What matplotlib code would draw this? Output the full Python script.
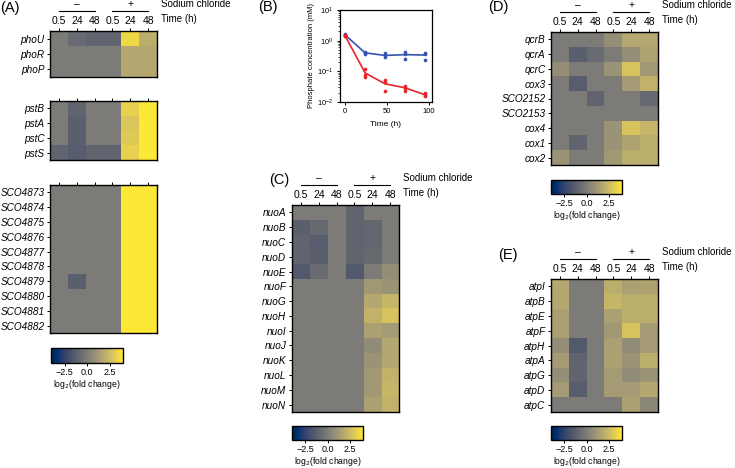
import numpy as np
import matplotlib
matplotlib.use('Agg')
import matplotlib.pyplot as plt
from matplotlib.lines import Line2D

plt.rcParams['font.family'] = ['Liberation Sans', 'DejaVu Sans']

W, H = 735, 468

times = ['0.5', '24', '48', '0.5', '24', '48']

# log2 fold change, columns: -NaCl 0.5/24/48 h, +NaCl 0.5/24/48 h
pho_genes = ['phoU', 'phoR', 'phoP']
pho_lfc = [[0, -0.7, -1.0, -1.0, 3.5, 2.0],
           [0, 0, 0, 0, 1.8, 1.8],
           [0, 0, 0, 0, 1.8, 1.8]]

pst_genes = ['pstB', 'pstA', 'pstC', 'pstS']
pst_lfc = [[0, -1.0, 0, 0, 3.3, 4.0],
           [0, -1.2, 0, 0, 2.9, 4.0],
           [0, -1.2, 0, 0, 3.0, 4.0],
           [-1.0, -1.3, -1.0, -1.0, 3.3, 4.0]]

sco_genes = ['SCO4873', 'SCO4874', 'SCO4875', 'SCO4876', 'SCO4877',
             'SCO4878', 'SCO4879', 'SCO4880', 'SCO4881', 'SCO4882']
sco_lfc = [[0, 0, 0, 0, 4.5, 4.5],
           [0, 0, 0, 0, 4.5, 4.5],
           [0, 0, 0, 0, 4.5, 4.5],
           [0, 0, 0, 0, 4.5, 4.5],
           [0, 0, 0, 0, 4.5, 4.5],
           [0, 0, 0, 0, 4.5, 4.5],
           [0, -1.2, 0, 0, 4.5, 4.5],
           [0, 0, 0, 0, 4.5, 4.5],
           [0, 0, 0, 0, 4.5, 4.5],
           [0, 0, 0, 0, 4.5, 4.5]]

nuo_genes = ['nuoA', 'nuoB', 'nuoC', 'nuoD', 'nuoE', 'nuoF', 'nuoG',
             'nuoH', 'nuoI', 'nuoJ', 'nuoK', 'nuoL', 'nuoM', 'nuoN']
nuo_lfc = [[0, 0, 0, -1.0, 0, 0],
           [-1.2, -0.8, 0, -1.0, -0.9, 0],
           [-1.0, -1.3, 0, -1.0, -0.9, 0],
           [-1.0, -1.2, 0, -1.0, -0.8, 0],
           [-1.5, -0.7, 0, -1.5, 0, 0.8],
           [0, 0, 0, 0, 1.2, 1.0],
           [0, 0, 0, 0, 1.8, 2.3],
           [0, 0, 0, 0, 2.2, 2.8],
           [0, 0, 0, 0, 1.5, 1.3],
           [0, 0, 0, 0, 0.7, 1.8],
           [0, 0, 0, 0, 1.0, 1.8],
           [0, 0, 0, 0, 1.2, 2.2],
           [0, 0, 0, 0, 1.2, 2.3],
           [0, 0, 0, 0, 1.5, 2.2]]

qcr_genes = ['qcrB', 'qcrA', 'qcrC', 'cox3', 'SCO2152', 'SCO2153',
             'cox4', 'cox1', 'cox2']
qcr_lfc = [[0, 0, 0, 0.8, 1.8, 1.8],
           [0, -1.2, -0.7, 0, 0.8, 1.6],
           [0.8, 0, 0, 1.0, 2.8, 1.2],
           [0, -1.3, 0, 0, 1.3, 2.2],
           [0, 0, -1.0, 0, 0, -0.8],
           [0, 0, 0, 0, 0, 0],
           [0, 0, 0, 1.0, 2.8, 2.3],
           [0, -1.0, 0, 1.0, 1.6, 2.0],
           [1.0, 0, 0, 1.2, 2.0, 2.0]]

atp_genes = ['atpI', 'atpB', 'atpE', 'atpF', 'atpH', 'atpA', 'atpG',
             'atpD', 'atpC']
atp_lfc = [[1.8, 0, 0, 2.0, 1.5, 1.6],
           [1.8, 0, 0, 2.3, 2.0, 2.0],
           [1.5, 0, 0, 1.5, 2.0, 2.0],
           [1.5, 0, 0, 1.2, 2.8, 1.3],
           [0.8, -1.5, 0, 1.5, 0.7, 1.3],
           [1.3, -1.0, 0, 1.5, 1.0, 2.0],
           [0.8, -1.0, 0, 1.3, 0.7, 1.0],
           [1.3, -1.3, 0, 1.3, 1.3, 1.8],
           [0, 0, 0, 0, 1.5, 0.5]]

# panel B: phosphate concentration (mM), 3 replicates per time point
time_h = [0, 24, 48, 72, 96]
ctrl_pts = [[1.65, 1.5, 1.55], [0.44, 0.40, 0.37], [0.40, 0.34, 0.29],
            [0.44, 0.37, 0.26], [0.40, 0.37, 0.23]]
ctrl_mean = [1.55, 0.40, 0.33, 0.35, 0.34]
salt_pts = [[1.45, 1.40, 1.50], [0.12, 0.076, 0.067], [0.054, 0.044, 0.022],
            [0.034, 0.029, 0.022], [0.019, 0.017, 0.0155]]
salt_mean = [1.45, 0.089, 0.039, 0.029, 0.017]


def rect(x0, y0, x1, y1):
    return [x0 / W, 1 - y1 / H, (x1 - x0) / W, (y1 - y0) / H]


fig = plt.figure(figsize=(W / 100, H / 100), dpi=100)


def heatmap(box, genes, vals, header=False):
    ax = fig.add_axes(rect(*box))
    im = ax.imshow(np.array(vals), cmap='cividis', vmin=-4, vmax=4,
                   aspect='auto', interpolation='nearest')
    ax.xaxis.tick_top()
    ax.set_xticks(range(6))
    ax.set_xticklabels(times if header else [])
    ax.tick_params(axis='x', length=2.5, width=0.7, pad=1.0, labelsize=7.5)
    ax.set_yticks(range(len(genes)))
    ax.set_yticklabels(genes, fontstyle='italic', fontsize=7.2)
    ax.tick_params(axis='y', length=2.5, width=0.7, pad=1.5)
    for s in ax.spines.values():
        s.set_linewidth(1.0)
    if header:
        x0, y0, x1, y1 = box
        cw = (x1 - x0) / 6
        cx = [x0 + (i + 0.5) * cw for i in range(6)]
        yl = 1 - (y0 - 20) / H
        ys = 1 - (y0 - 27) / H
        for a, b in [(0, 2), (3, 5)]:
            fig.add_artist(Line2D([cx[a] / W, cx[b] / W], [yl, yl],
                                  color='black', lw=0.8))
        fig.text(cx[1] / W, ys, '–', ha='center', va='center', fontsize=7.5)
        fig.text(cx[4] / W, ys, '+', ha='center', va='center', fontsize=7.5)
        fig.text((x1 + 4) / W, ys, 'Sodium chloride', va='center', fontsize=7)
        fig.text((x1 + 4) / W, 1 - (y0 - 12) / H, 'Time (h)', va='center',
                 fontsize=7)
    return im


def cbar(im, box):
    cax = fig.add_axes(rect(*box))
    cb = fig.colorbar(im, cax=cax, orientation='horizontal', ticks=[-2.5, 0, 2.5])
    cb.ax.tick_params(labelsize=6.5, length=2, width=0.7, pad=1.5)
    cb.set_label('log$_2$(fold change)', fontsize=6.2, labelpad=1)
    cb.outline.set_linewidth(1.0)


# (A)
im = heatmap((50, 31, 157, 77), pho_genes, pho_lfc, header=True)
heatmap((50, 101, 157, 160), pst_genes, pst_lfc)
heatmap((50, 185, 157, 333), sco_genes, sco_lfc)
cbar(im, (51, 348, 123, 363))

# (C)
im = heatmap((292, 205, 399, 412), nuo_genes, nuo_lfc, header=True)
cbar(im, (292, 426, 363, 440))

# (D)
im = heatmap((551, 32, 658, 165), qcr_genes, qcr_lfc, header=True)
cbar(im, (551, 180, 622, 194))

# (E)
im = heatmap((551, 279, 658, 412), atp_genes, atp_lfc, header=True)
cbar(im, (551, 426, 622, 440))

# (B)
axb = fig.add_axes(rect(340, 10, 432, 102))
for pts, mean, col in [(ctrl_pts, ctrl_mean, '#3553b0'),
                       (salt_pts, salt_mean, '#e8242a')]:
    xs = [t for t, p in zip(time_h, pts) for _ in p]
    ys = [v for p in pts for v in p]
    axb.scatter(xs, ys, s=7, color=col, zorder=3, linewidths=0)
    axb.plot(time_h, mean, color=col, lw=1.2)
axb.set_yscale('log')
axb.set_ylim(0.01, 10)
axb.set_xlim(-6, 104)
axb.set_xticks([0, 50, 100])
axb.tick_params(labelsize=5.5, length=2.5, width=0.7, pad=2)
axb.tick_params(which='minor', length=1.5, width=0.5)
axb.set_xlabel('Time (h)', fontsize=6, labelpad=4)
axb.set_ylabel('Phosphate concentration (mM)', fontsize=5.5, labelpad=2)
for s in axb.spines.values():
    s.set_linewidth(0.9)

# panel letters
for x, y, s in [(0, 8, '(A)'), (258, 7, '(B)'), (269, 180, '(C)'),
                (488, 7, '(D)'), (498, 255, '(E)')]:
    fig.text(x / W, 1 - y / H, s, va='center', ha='left', fontsize=10.5)

fig.savefig('out.png', dpi=100)
